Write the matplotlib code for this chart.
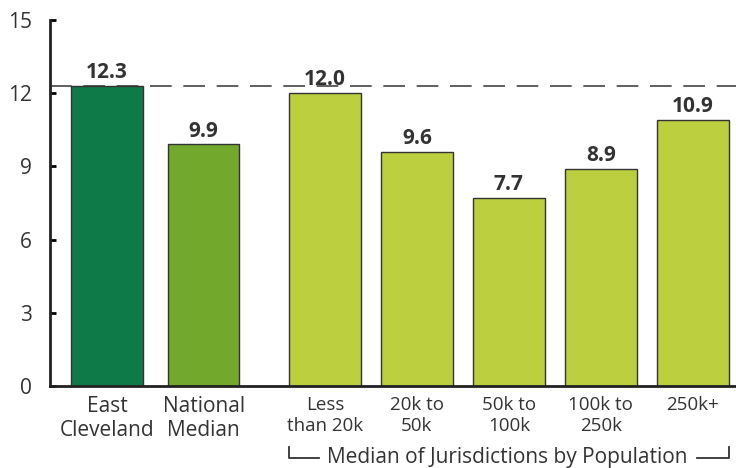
import matplotlib.pyplot as plt
import matplotlib.transforms as mtransforms

plt.rcParams['font.family'] = ['Open Sans', 'DejaVu Sans']

categories = ['East\nCleveland', 'National\nMedian', 'Less\nthan 20k', '20k to\n50k',
              '50k to\n100k', '100k to\n250k', '250k+']
values = [12.3, 9.9, 12.0, 9.6, 7.7, 8.9, 10.9]
positions = [0, 1.05, 2.37, 3.37, 4.37, 5.37, 6.37]
colors = ['#0e7a47', '#72a92d', '#bccf3f', '#bccf3f', '#bccf3f', '#bccf3f', '#bccf3f']
yticks = [0, 3, 6, 9, 12, 15]
reference = values[0]

fig = plt.figure(figsize=(7.36, 4.68), dpi=100)
ax = fig.add_axes([50 / 736, 1 - 386 / 468, 1 - 50 / 736, 366 / 468])

bars = ax.bar(positions, values, width=0.78, color=colors, edgecolor='#333333', linewidth=1)
for b, v in zip(bars, values):
    ax.annotate(f'{v:.1f}', (b.get_x() + b.get_width() / 2, v), xytext=(0, 2),
                textcoords='offset points', ha='center', va='bottom',
                fontsize=15, fontweight='bold', color='#333333')

ax.axhline(reference, color='#444444', linestyle=(0, (13, 7)), linewidth=1.2, zorder=0)

ax.set_xlim(-0.62, 6.84)
ax.set_ylim(0, 15)
ax.set_yticks(yticks)
ax.set_xticks(positions)
ax.set_xticklabels(categories, color='#333333')
for i, lab in enumerate(ax.get_xticklabels()):
    lab.set_fontsize(15 if i < 2 else 13.5)
    lab.set_linespacing(1.18 if i < 2 else 1.25)
ax.tick_params(axis='x', length=0, pad=7)
ax.tick_params(axis='y', direction='in', length=4, width=2, labelsize=15,
               labelcolor='#333333', pad=13)
for s in ['top', 'right']:
    ax.spines[s].set_visible(False)
ax.spines['left'].set_linewidth(2)
ax.spines['bottom'].set_linewidth(2)
ax.spines['left'].set_color('#222222')
ax.spines['bottom'].set_color('#222222')

# group bracket under population bars
trans = mtransforms.blended_transform_factory(ax.transData, ax.transAxes)
left = positions[2] - 0.39
right = positions[-1] + 0.39
ybot, ytop = -0.197, -0.167
ax.plot([left, left, left + 0.32], [ytop, ybot, ybot], transform=trans,
        color='#333333', lw=1.3, clip_on=False)
ax.plot([right - 0.34, right, right], [ybot, ybot, ytop], transform=trans,
        color='#333333', lw=1.3, clip_on=False)
ax.text((left + right) / 2 - 0.02, ybot + 0.003, 'Median of Jurisdictions by Population',
        transform=trans, ha='center', va='center', fontsize=15, color='#333333')

fig.savefig('out.png', dpi=100)
